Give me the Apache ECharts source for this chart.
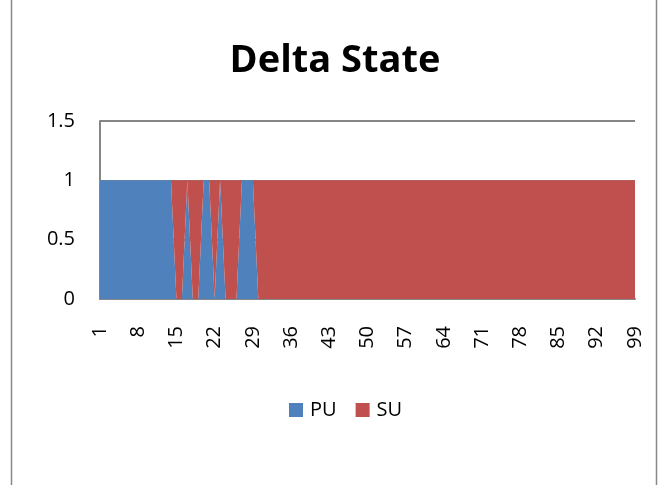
<!DOCTYPE html>
<html>
<head>
<meta charset="utf-8">
<script src="https://cdn.jsdelivr.net/npm/echarts@6/dist/echarts.min.js"></script>
<style>
  html, body { margin: 0; padding: 0; background: #ffffff; }
  #chart { width: 670px; height: 485px; }
</style>
</head>
<body>
<div id="chart"></div>
<script>
// x categories 1..99
const categories = [
  '1','2','3','4','5','6','7','8','9','10',
  '11','12','13','14','15','16','17','18','19','20',
  '21','22','23','24','25','26','27','28','29','30',
  '31','32','33','34','35','36','37','38','39','40',
  '41','42','43','44','45','46','47','48','49','50',
  '51','52','53','54','55','56','57','58','59','60',
  '61','62','63','64','65','66','67','68','69','70',
  '71','72','73','74','75','76','77','78','79','80',
  '81','82','83','84','85','86','87','88','89','90',
  '91','92','93','94','95','96','97','98','99'
];

const puValues = [
  1,1,1,1,1,1,1,1,1,1,
  1,1,1,1,0,0,1,0,0,1,
  1,0,1,0,0,0,1,1,1,0,
  0,0,0,0,0,0,0,0,0,0,
  0,0,0,0,0,0,0,0,0,0,
  0,0,0,0,0,0,0,0,0,0,
  0,0,0,0,0,0,0,0,0,0,
  0,0,0,0,0,0,0,0,0,0,
  0,0,0,0,0,0,0,0,0,0,
  0,0,0,0,0,0,0,0,0
];

const suValues = [
  0,0,0,0,0,0,0,0,0,0,
  0,0,0,0,1,1,0,1,1,0,
  0,1,0,1,1,1,0,0,0,1,
  1,1,1,1,1,1,1,1,1,1,
  1,1,1,1,1,1,1,1,1,1,
  1,1,1,1,1,1,1,1,1,1,
  1,1,1,1,1,1,1,1,1,1,
  1,1,1,1,1,1,1,1,1,1,
  1,1,1,1,1,1,1,1,1,1,
  1,1,1,1,1,1,1,1,1
];

const yTicks = [0, 0.5, 1, 1.5];

const chart = echarts.init(document.getElementById('chart'));

const fontFamily = '"Open Sans", "Noto Sans", sans-serif';
const axisGray = '#868686';

const option = {
  backgroundColor: '#ffffff',
  animation: false,
  title: {
    text: 'Delta State',
    left: 'center',
    top: 37,
    textStyle: {
      fontFamily: fontFamily,
      fontSize: 38,
      fontWeight: 'bold',
      color: '#000000'
    }
  },
  legend: {
    data: ['PU', 'SU'],
    left: 284,
    top: 395,
    itemWidth: 14,
    itemHeight: 14,
    itemGap: 19,
    icon: 'rect',
    textStyle: {
      fontFamily: fontFamily,
      fontSize: 20,
      color: '#000000',
      padding: [0, 0, 0, 2]
    }
  },
  grid: {
    left: 100,
    right: 35,
    top: 121,
    bottom: 186
  },
  xAxis: {
    type: 'category',
    data: categories,
    boundaryGap: false,
    axisLine: { show: true, lineStyle: { color: axisGray, width: 2 } },
    axisTick: { show: false },
    axisLabel: {
      interval: 6,
      rotate: 90,
      margin: 27,
      fontFamily: fontFamily,
      fontSize: 20,
      color: '#000000'
    },
    splitLine: { show: false }
  },
  yAxis: {
    type: 'value',
    min: yTicks[0],
    max: yTicks[yTicks.length - 1],
    interval: 0.5,
    axisLine: { show: true, lineStyle: { color: axisGray, width: 2 } },
    axisTick: { show: false },
    axisLabel: {
      margin: 25,
      fontFamily: fontFamily,
      fontSize: 20,
      color: '#000000'
    },
    splitLine: { show: true, lineStyle: { color: axisGray, width: 2 } }
  },
  series: [
    {
      name: 'PU',
      type: 'line',
      stack: 'total',
      data: puValues,
      symbol: 'none',
      lineStyle: { width: 0 },
      areaStyle: { color: '#4F81BD', opacity: 1 },
      itemStyle: { color: '#4F81BD' }
    },
    {
      name: 'SU',
      type: 'line',
      stack: 'total',
      data: suValues,
      symbol: 'none',
      lineStyle: { width: 0 },
      areaStyle: { color: '#C0504D', opacity: 1 },
      itemStyle: { color: '#C0504D' }
    }
  ],
  graphic: [
    {
      // outer chart frame
      type: 'rect',
      shape: { x: 11.5, y: -5, width: 645, height: 500 },
      style: { fill: 'none', stroke: '#888888', lineWidth: 1.5 },
      silent: true
    }
  ]
};

chart.setOption(option);
</script>
</body>
</html>
